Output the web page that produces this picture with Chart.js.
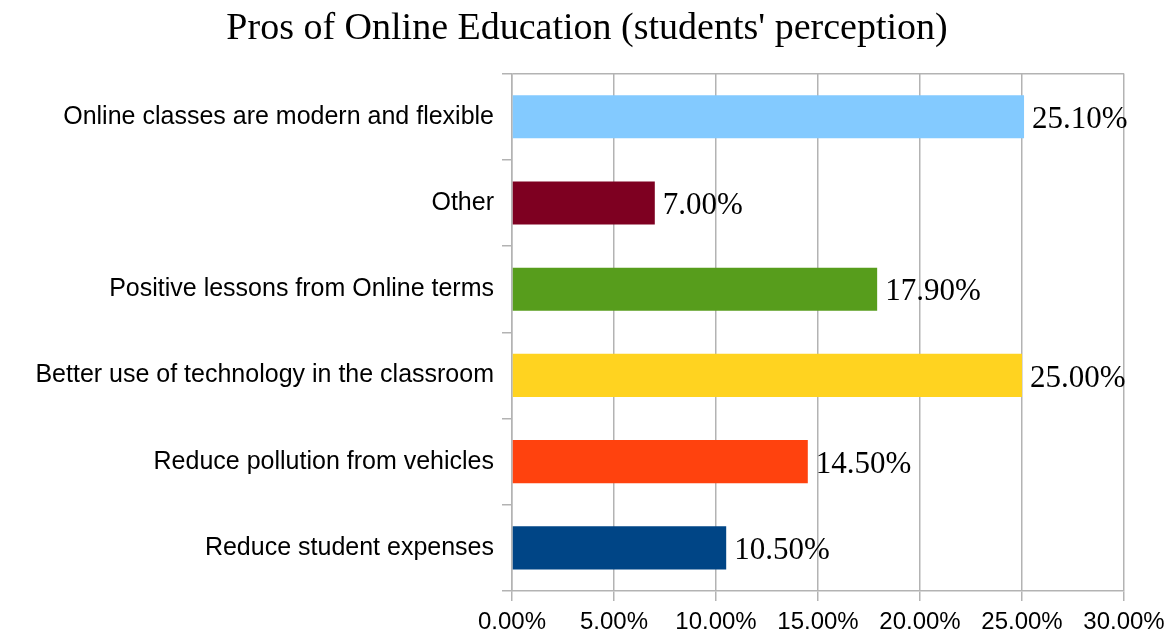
<!DOCTYPE html>
<html>
<head>
<meta charset="utf-8">
<script src="https://cdn.jsdelivr.net/npm/chart.js@4"></script>
<style>
  html, body { margin: 0; padding: 0; background: #fff; }
  #wrap { width: 1174px; height: 635px; }
</style>
</head>
<body>
<div id="wrap"><canvas id="barChart"></canvas></div>
<script>
const CATEGORIES = [
  'Online classes are modern and flexible',
  'Other',
  'Positive lessons from Online terms',
  'Better use of technology in the classroom',
  'Reduce pollution from vehicles',
  'Reduce student expenses'
];
const PERCENTS = [25.1, 7.0, 17.9, 25.0, 14.5, 10.5];
const BAR_COLORS = ['#83caff', '#7e0021', '#579d1c', '#ffd320', '#ff420e', '#004586'];
const X_MAX = 30;
const X_STEP = 5;

const GRID = '#b3b3b3';

// draws the value next to the end of each bar
const valueLabels = {
  id: 'valueLabels',
  afterDatasetsDraw(chart) {
    const ctx = chart.ctx;
    const meta = chart.getDatasetMeta(0);
    ctx.save();
    ctx.font = '31px "Liberation Serif"';
    ctx.fillStyle = '#000';
    ctx.textBaseline = 'middle';
    ctx.textAlign = 'left';
    meta.data.forEach((bar, i) => {
      ctx.fillText(PERCENTS[i].toFixed(2) + '%', bar.x + 8, bar.y + 3);
    });
    ctx.restore();
  }
};

let barChart = new Chart(document.getElementById('barChart'), {
  type: 'bar',
  data: {
    labels: CATEGORIES,
    datasets: [{
      data: PERCENTS,
      backgroundColor: BAR_COLORS,
      barPercentage: 0.5,
      categoryPercentage: 1.0
    }]
  },
  options: {
    indexAxis: 'y',
    responsive: true,
    maintainAspectRatio: false,
    animation: false,
    plugins: {
      legend: { display: false },
      tooltip: { enabled: false },
      title: {
        display: true,
        text: "Pros of Online Education (students' perception)",
        color: '#000',
        font: { family: '"Liberation Serif"', size: 38, weight: 'normal' },
        padding: { top: 6, bottom: 22 }
      }
    },
    scales: {
      x: {
        min: 0,
        max: X_MAX,
        ticks: {
          stepSize: X_STEP,
          color: '#000',
          font: { family: '"Liberation Sans"', size: 24 },
          padding: 7,
          callback: v => v.toFixed(2) + '%'
        },
        grid: { color: GRID, lineWidth: 1.5, tickLength: 10 },
        border: { color: GRID, width: 1.5 },
        afterFit: s => { s.height = 44; }
      },
      y: {
        ticks: {
          color: '#000',
          font: { family: '"Liberation Sans"', size: 25 },
          padding: 8
        },
        grid: {
          offset: true,
          color: c => c.index === 0 ? GRID : 'transparent',
          tickColor: GRID,
          lineWidth: 1.5,
          tickLength: 10
        },
        border: { color: GRID, width: 1.5 },
        afterFit: s => { s.width = 512; }
      },
      // empty strip on the right so the value labels have room
      yRight: {
        type: 'linear',
        position: 'right',
        display: true,
        ticks: { display: false },
        grid: { display: false },
        border: { display: false },
        afterFit: s => { s.width = 50; }
      }
    }
  },
  plugins: [valueLabels]
});
</script>
</body>
</html>
